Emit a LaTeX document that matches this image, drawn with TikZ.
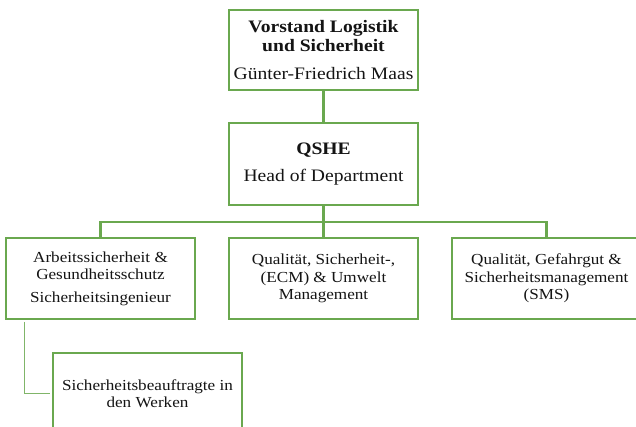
\documentclass[tikz,border=0pt]{standalone}
\usepackage{fontspec}
\setmainfont{Liberation Serif}[FakeStretch=1.12]
\definecolor{orggreen}{HTML}{6AA84F}
\begin{document}
\begin{tikzpicture}[x=1pt,y=-1pt,
  box/.style={draw=orggreen,line width=2.8pt,fill=white,minimum width=189pt,minimum height=81pt,align=center,inner sep=0pt,text=black!92},
  bigtext/.style={font=\fontsize{17.5}{19}\selectfont},
  smalltext/.style={font=\fontsize{15.3}{17.5}\selectfont},
  conn/.style={draw=orggreen,line width=2.4pt},
  thinconn/.style={draw=orggreen!85,line width=1.2pt}]
\clip (0,0) rectangle (636,427);
\fill[white] (0,0) rectangle (636,427);
\node[box,bigtext,minimum height=80pt] (top) at (323.5,50) {\textbf{Vorstand Logistik}\\\textbf{und Sicherheit}\\[9pt]Günter-Friedrich Maas};
\node[box,bigtext,minimum height=82pt] (qshe) at (323.5,164) {\textbf{QSHE}\\[8pt]Head of Department};
\node[box,smalltext] (left) at (100.5,278.5) {Arbeitssicherheit \&\\Gesundheitsschutz\\[5pt]Sicherheitsingenieur};
\node[box,smalltext] (mid) at (323.5,278.5) {Qualität, Sicherheit-,\\(ECM) \& Umwelt\\Management};
\node[box,smalltext] (right) at (546.5,278.5) {Qualität, Gefahrgut \&\\Sicherheitsmanagement\\(SMS)};
\node[box,smalltext] (sub) at (147.5,393.5) {Sicherheitsbeauftragte in\\den Werken};
\coordinate (bus) at (323.5,222);
\coordinate (subtap) at ([xshift=20pt,yshift=-1.4pt]left.south west);
\draw[conn] (top.south) -- (qshe.north);
\draw[conn] (qshe.south) -- (mid.north);
\draw[conn] (left.north) |- (bus) -| (right.north);
\draw[thinconn] (subtap) |- ([xshift=-1.4pt]sub.west);
\end{tikzpicture}
\end{document}
